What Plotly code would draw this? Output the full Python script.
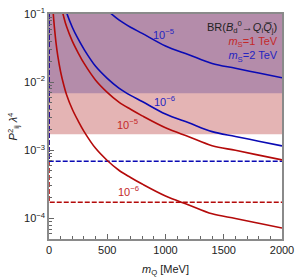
import plotly.graph_objects as go

# ---- data ----
m_redA = [30, 40, 50, 60, 75, 100, 125, 150, 200, 250, 300, 400, 500, 600, 700, 800, 1000, 1200, 1400, 1600, 1800, 2000]
v_redA = [0.151, 0.085, 0.055, 0.038, 0.0245, 0.0141, 0.0093, 0.0066, 0.0040, 0.0027, 0.0019, 0.00107, 0.00071,
          0.00051, 0.00040, 0.00032, 0.000214, 0.000158, 0.000117, 0.000100, 0.000085, 0.0000724]

m_redB = [100, 125, 150, 200, 250, 300, 400, 500, 600, 700, 800, 1000, 1200, 1400, 1600, 1800, 2000]
v_redB = [0.141, 0.093, 0.066, 0.040, 0.027, 0.019, 0.0107, 0.0071, 0.0051, 0.0040, 0.0032, 0.00214, 0.00158,
          0.00117, 0.00100, 0.00085, 0.000724]

m_blueC = [125, 150, 200, 250, 300, 400, 500, 600, 700, 800, 1000, 1200, 1400, 1600, 1800, 2000]
v_blueC = [0.149, 0.106, 0.064, 0.043, 0.0305, 0.0171, 0.0114, 0.0082, 0.0064, 0.0052, 0.0034, 0.00253, 0.00188,
           0.0016, 0.00136, 0.00116]

m_blueD = [400, 500, 600, 700, 800, 1000, 1200, 1400, 1600, 1800, 2000]
v_blueD = [0.171, 0.114, 0.082, 0.064, 0.052, 0.034, 0.0253, 0.0188, 0.016, 0.0136, 0.0116]

band_red = [0.00172, 0.1]    # m_S = 1 TeV band (low, high)
band_blue = [0.0069, 0.1]    # m_S = 2 TeV band
dash_red = 0.000173
dash_blue = 0.00069
x_range = [0, 2000]
y_range = [5e-5, 0.1]
y_ticks = [1e-4, 1e-3, 1e-2, 1e-1]
y_ticktext = ["10<sup>−4</sup>", "10<sup>−3</sup>", "10<sup>−2</sup>", "10<sup>−1</sup>"]

RED = "#b40a0a"
BLUE = "#0a0ab4"
RED_TXT = "#c42828"
BLUE_TXT = "#2424c0"

fig = go.Figure()

# bands
fig.add_trace(go.Scatter(x=[x_range[0], x_range[1], x_range[1], x_range[0], x_range[0]],
                         y=[band_red[0], band_red[0], band_red[1], band_red[1], band_red[0]],
                         fill="toself", fillcolor="#e4b4b4", line=dict(width=0), mode="lines",
                         hoverinfo="skip", showlegend=False))
fig.add_trace(go.Scatter(x=[x_range[0], x_range[1], x_range[1], x_range[0], x_range[0]],
                         y=[band_blue[0], band_blue[0], band_blue[1], band_blue[1], band_blue[0]],
                         fill="toself", fillcolor="#b48caa", line=dict(width=0), mode="lines",
                         hoverinfo="skip", showlegend=False))

# dashed limits
fig.add_trace(go.Scatter(x=[0, 0, x_range[1]], y=[y_range[1], dash_red, dash_red], mode="lines",
                         line=dict(color=RED, width=1.6, dash="5px,2px"), showlegend=False))
fig.add_trace(go.Scatter(x=[0, 0, x_range[1]], y=[y_range[1], dash_blue, dash_blue], mode="lines",
                         line=dict(color=BLUE, width=1.6, dash="5px,2px"), showlegend=False))

# curves
for mx, vy, col in [(m_redA, v_redA, RED), (m_redB, v_redB, RED), (m_blueC, v_blueC, BLUE), (m_blueD, v_blueD, BLUE)]:
    fig.add_trace(go.Scatter(x=mx, y=vy, mode="lines", line=dict(color=col, width=1.6, shape="spline"),
                             showlegend=False))

FONT = "Liberation Sans, Arial, sans-serif"

annots = [
    dict(x=985, y=-1.29, text="10<sup>−5</sup>", color=BLUE_TXT),
    dict(x=995, y=-2.27, text="10<sup>−6</sup>", color=BLUE_TXT),
    dict(x=670, y=-2.62, text="10<sup>−5</sup>", color=RED_TXT),
    dict(x=686, y=-3.59, text="10<sup>−6</sup>", color=RED_TXT),
]
for a in annots:
    fig.add_annotation(x=a["x"], y=a["y"], xref="x", yref="y", text=a["text"], showarrow=False,
                       font=dict(color=a["color"], size=11, family=FONT))

legend_text = ("BR(<i>B</i><sub>d</sub><sup>0</sup>→<i>Q</i><sub>i</sub><i>Q\u0305</i><sub>j</sub>)<br>"
               f"<span style='color:{RED_TXT}'><i>m</i><sub>S</sub>=1 TeV</span><br>"
               f"<span style='color:{BLUE_TXT}'><i>m</i><sub>S</sub>=2 TeV</span>")
fig.add_annotation(x=0.99, y=0.985, xref="paper", yref="paper", text=legend_text, showarrow=False,
                   xanchor="right", yanchor="top", align="right",
                   font=dict(color="#222222", size=11, family=FONT))

fig.update_layout(
    width=300, height=280,
    margin=dict(l=49, r=14, t=6, b=36),
    paper_bgcolor="white", plot_bgcolor="white",
    font=dict(family=FONT, size=11, color="#222222"),
    xaxis=dict(range=x_range, dtick=500, tick0=0, ticks="inside", ticklen=5, tickcolor="#666",
               showline=True, linecolor="#8a8a8a", linewidth=1.5, mirror=True, showgrid=False, zeroline=False,
               minor=dict(ticks="inside", ticklen=3, dtick=100, tickcolor="#666", showgrid=False),
               title=dict(text="<i>m</i><sub>Q</sub> [MeV]", standoff=10, font=dict(size=11, family=FONT)),
               tickfont=dict(size=11, family=FONT)),
    yaxis=dict(type="log", range=[-4.30103, -0.9999], tickvals=y_ticks, ticktext=y_ticktext,
               ticks="inside", ticklen=5,
               tickcolor="#666", showline=True, linecolor="#8a8a8a", linewidth=1.5, mirror=True,
               showgrid=False, zeroline=False,
               minor=dict(ticks="inside", ticklen=3, dtick="D1", tickcolor="#666", showgrid=False),
               title=dict(text="<i>P</i><sup>2</sup><sub>ij</sub> <i>λ</i><sup>4</sup>", standoff=4,
                          font=dict(size=11, family=FONT)),
               tickfont=dict(size=11, family=FONT)),
)

fig.write_html("out.html", config={"displayModeBar": False},
               post_script="document.body.style.margin='0';document.body.style.padding='0';")
